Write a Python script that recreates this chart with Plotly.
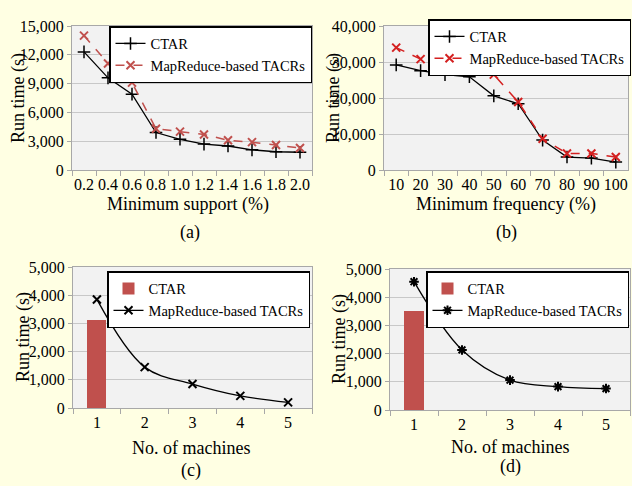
import plotly.graph_objects as go

# ---- data ----
support = ["0.2", "0.4", "0.6", "0.8", "1.0", "1.2", "1.4", "1.6", "1.8", "2.0"]
a_ctar = [12300, 9600, 7900, 3900, 3200, 2700, 2500, 2100, 1900, 1850]
a_mr = [14000, 11100, 9100, 4300, 4000, 3700, 3100, 2900, 2600, 2300]

frequency = ["10", "20", "30", "40", "50", "60", "70", "80", "90", "100"]
b_ctar = [29200, 27600, 26500, 25900, 20600, 18400, 8300, 3600, 3300, 2200]
b_mr = [34000, 30800, 30200, 29800, 26500, 18900, 8700, 4600, 4600, 3600]

machines = ["1", "2", "3", "4", "5"]
c_ctar_cat = ["1"]
c_ctar = [3120]
c_mr = [3850, 1450, 850, 430, 200]

d_ctar_cat = ["1"]
d_ctar = [3500]
d_mr = [4550, 2130, 1060, 830, 760]

# ---- style ----
W, H = 632, 486
FONT = "Liberation Serif, Times New Roman, Times, serif"
RED_A = "#C0504D"
RED_B = "#D42020"
BAR = "#C0504D"
PAPER = "#FFFFE3"
PLOTBG = "#F2F2F2"
GRID = "#C8C8C8"
AXIS = "#A8A8A8"


def dx(a, b):
    return [a / W, b / W]


def dy(top, bottom):
    return [1 - bottom / H, 1 - top / H]


fig = go.Figure()

# (a)
fig.add_trace(go.Scatter(x=support, y=a_ctar, name="CTAR", mode="lines+markers",
                         line=dict(color="black", width=1.3),
                         marker=dict(symbol="cross-thin", size=9, line=dict(width=1.5, color="black")),
                         xaxis="x", yaxis="y", legend="legend"))
fig.add_trace(go.Scatter(x=support, y=a_mr, name="MapReduce-based TACRs", mode="lines+markers",
                         line=dict(color=RED_A, width=1.5, dash="dash"),
                         marker=dict(symbol="x-thin", size=8, line=dict(width=2, color=RED_A)),
                         xaxis="x", yaxis="y", legend="legend"))
# (b)
fig.add_trace(go.Scatter(x=frequency, y=b_ctar, name="CTAR", mode="lines+markers",
                         line=dict(color="black", width=1.3),
                         marker=dict(symbol="cross-thin", size=9, line=dict(width=1.5, color="black")),
                         xaxis="x2", yaxis="y2", legend="legend2"))
fig.add_trace(go.Scatter(x=frequency, y=b_mr, name="MapReduce-based TACRs", mode="lines+markers",
                         line=dict(color=RED_B, width=1.5, dash="dash"),
                         marker=dict(symbol="x-thin", size=8, line=dict(width=2, color=RED_B)),
                         xaxis="x2", yaxis="y2", legend="legend2"))
# (c)
fig.add_trace(go.Bar(x=c_ctar_cat, y=c_ctar, name="CTAR", marker=dict(color=BAR, line=dict(width=0)),
                     width=0.4, xaxis="x3", yaxis="y3", legend="legend3"))
fig.add_trace(go.Scatter(x=machines, y=c_mr, name="MapReduce-based TACRs", mode="lines+markers",
                         line=dict(color="black", width=1.3, shape="spline"),
                         marker=dict(symbol="x-thin", size=8, line=dict(width=2, color="black")),
                         xaxis="x3", yaxis="y3", legend="legend3"))
# (d)
fig.add_trace(go.Bar(x=d_ctar_cat, y=d_ctar, name="CTAR", marker=dict(color=BAR, line=dict(width=0)),
                     width=0.4, xaxis="x4", yaxis="y4", legend="legend4"))
fig.add_trace(go.Scatter(x=machines, y=d_mr, name="MapReduce-based TACRs", mode="lines+markers",
                         line=dict(color="black", width=1.3, shape="spline"),
                         marker=dict(symbol="asterisk", size=8, line=dict(width=2, color="black")),
                         xaxis="x4", yaxis="y4", legend="legend4"))


def xaxis(domain, n, anchor):
    return dict(domain=domain, anchor=anchor, type="category", range=[-0.5, n - 0.5],
                showgrid=False, showline=True, linecolor=AXIS, linewidth=1, mirror=True,
                ticks="outside", tickson="boundaries", ticklen=5, tickcolor=AXIS, tickangle=0,
                automargin=False,
                tickfont=dict(family=FONT, size=16, color="black"), fixedrange=True)


def yaxis(domain, rng, dt, anchor):
    return dict(domain=domain, anchor=anchor, range=rng, dtick=dt, tickformat=",",
                showgrid=True, gridcolor=GRID, gridwidth=1, zeroline=False,
                showline=True, linecolor=AXIS, linewidth=1, mirror=True,
                ticks="outside", ticklen=4, tickcolor=AXIS, automargin=False,
                tickfont=dict(family=FONT, size=16, color="black"), fixedrange=True)


legend_common = dict(bgcolor="white", bordercolor="black", borderwidth=1.5,
                     font=dict(family=FONT, size=14.5, color="black"),
                     xanchor="right", yanchor="top", itemwidth=30, tracegroupgap=0)

xa = dx(72, 312); ya = dy(26, 170)
xb = dx(384, 628); yb = dy(26, 170)
xc = dx(73, 312); yc = dy(267, 408)
xd = dx(390, 630); yd = dy(269, 410)

fig.update_layout(
    width=W, height=H, margin=dict(l=0, r=0, t=0, b=0, autoexpand=False),
    paper_bgcolor=PAPER, plot_bgcolor=PLOTBG,
    font=dict(family=FONT, size=15, color="black"),
    xaxis=xaxis(xa, 10, "y"), yaxis=yaxis(ya, [0, 15000], 3000, "x"),
    xaxis2=xaxis(xb, 10, "y2"), yaxis2=yaxis(yb, [0, 40000], 10000, "x2"),
    xaxis3=xaxis(xc, 5, "y3"), yaxis3=yaxis(yc, [0, 5000], 1000, "x3"),
    xaxis4=xaxis(xd, 5, "y4"), yaxis4=yaxis(yd, [0, 5000], 1000, "x4"),
    legend=dict(x=312 / W, y=1 - 26 / H, **legend_common),
    legend2=dict(x=631 / W, y=1 - 19 / H, **legend_common),
    legend3=dict(x=310 / W, y=1 - 271 / H, **legend_common),
    legend4=dict(x=629 / W, y=1 - 271 / H, **legend_common),
    bargap=0, showlegend=True,
)

ann = []
def text(x, y, s, size=18, angle=0):
    ann.append(dict(x=x / W, y=1 - y / H, xref="paper", yref="paper", text=s, showarrow=False,
                    font=dict(family=FONT, size=size, color="black"), textangle=angle,
                    xanchor="center", yanchor="middle"))

text(19, 98, "Run time (s)", angle=-90)
text(188, 204, "Minimum support (%)")
text(190, 232, "(a)")
text(334, 98, "Run time (s)", angle=-90)
text(506, 204, "Minimum frequency (%)")
text(506, 232, "(b)")
text(23, 337, "Run time (s)", angle=-90)
text(191, 448, "No. of machines")
text(191, 470, "(c)")
text(339, 339, "Run time (s)", angle=-90)
text(510, 447, "No. of machines")
text(510, 466, "(d)")
fig.update_layout(annotations=ann)

fig.write_html("out.html", config={"displayModeBar": False},
               post_script="document.body.style.margin='0';document.body.style.overflow='hidden';")
